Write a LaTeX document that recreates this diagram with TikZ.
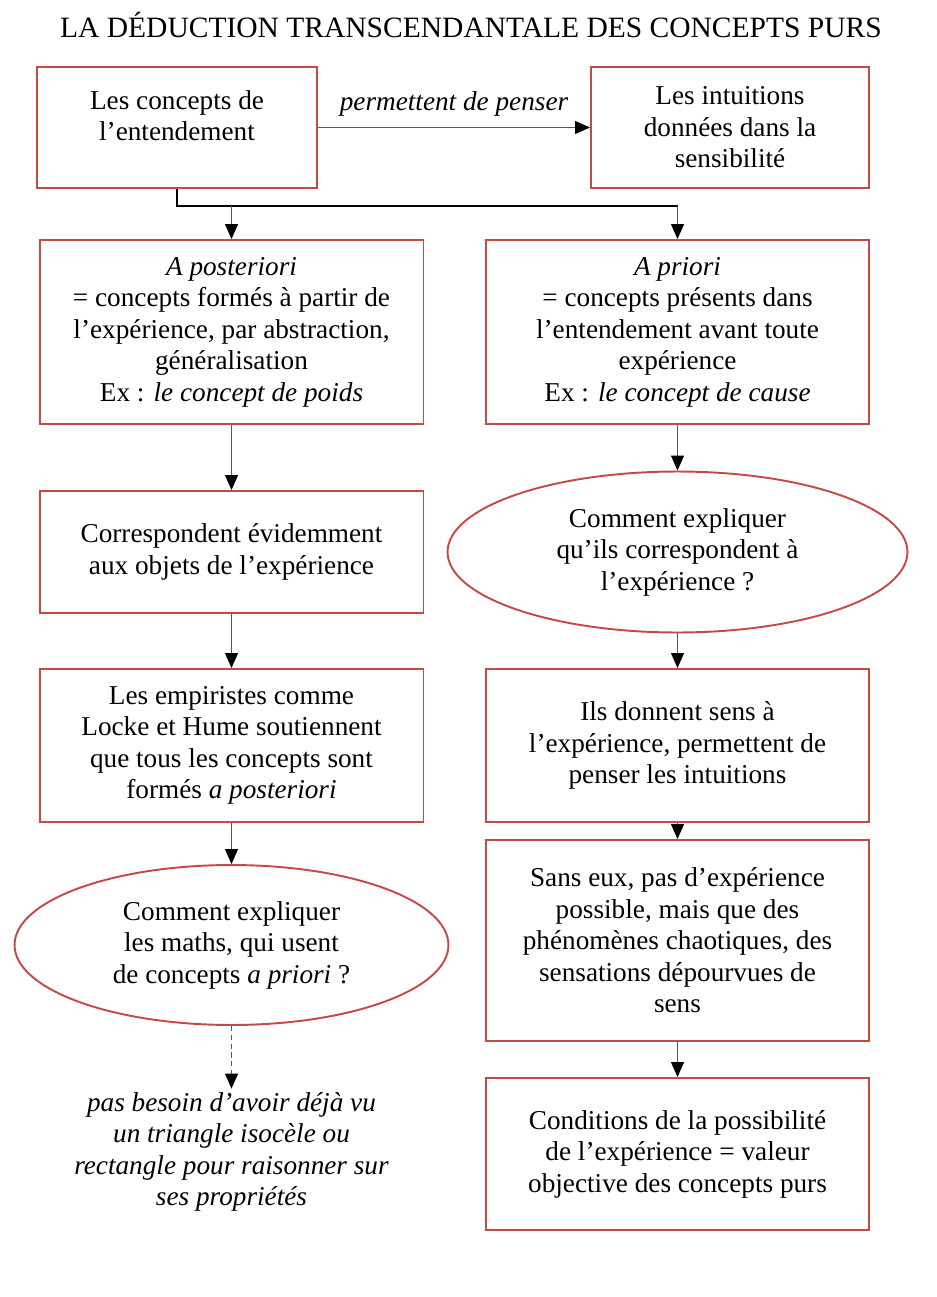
\documentclass[tikz,border=0pt]{standalone}
\usepackage{fontspec}
\setmainfont{Liberation Serif}
\usetikzlibrary{arrows.meta,shapes.geometric}
\definecolor{boxred}{RGB}{200,72,70}
\tikzset{
	box/.style={draw=boxred, line width=1.1pt, align=center, inner sep=2pt, font=\fontsize{15.5}{17.9}\selectfont},
	bubble/.style={box, ellipse, inner sep=0pt},
	link/.style={draw=black!65, line width=0.6pt, -{Triangle[width=2.6mm,length=3mm,color=black]}},
}

\begin{document}
\begin{tikzpicture}[x=0.02cm,y=-0.02cm]
					\useasboundingbox (0,0) rectangle (936,1297);
					
					% Title
					\node[font=\fontsize{16.8}{19}\selectfont] (title) at (471,25) {LA DÉDUCTION TRANSCENDANTALE DES CONCEPTS PURS};
					
					% Top row
					\node[box, minimum width=5.6cm, minimum height=2.42cm, text depth=0.47cm] (concepts) at (177,127.5) {Les concepts de\\l’entendement};
					\node[box, minimum width=5.56cm, minimum height=2.42cm] (intuitions) at (730,127.5) {Les intuitions\\données dans la\\sensibilité};
					\draw[link] (concepts.east) -- node[above=3pt, font=\fontsize{15.5}{17.9}\selectfont\itshape] {permettent de penser} (intuitions.west);
					
					% A posteriori
					\node[box, minimum width=7.68cm, minimum height=3.68cm] (aposteriori) at (231.5,332) {\textit{A posteriori}\\= concepts formés à partir de\\l’expérience, par abstraction,\\généralisation\\Ex : \textit{le concept de poids}};
					\node[box, minimum width=7.68cm, minimum height=2.44cm] (objets) at (231.5,552) {Correspondent évidemment\\aux objets de l’expérience};
					\node[box, minimum width=7.68cm, minimum height=3.06cm] (empiristes) at (231.5,745.5) {Les empiristes comme\\Locke et Hume soutiennent\\que tous les concepts sont\\formés \textit{a posteriori}};
					\node[bubble, minimum width=8.68cm, minimum height=3.2cm] (maths) at (231.5,945) {Comment expliquer\\les maths, qui usent\\de concepts \textit{a priori} ?};
					\node[align=center, inner sep=2pt, font=\fontsize{15.5}{17.9}\selectfont\itshape] (triangle) at (231.5,1152) {pas besoin d’avoir déjà vu\\un triangle isocèle ou\\rectangle pour raisonner sur\\ses propriétés};
					
					% A priori
					\node[box, minimum width=7.66cm, minimum height=3.68cm] (apriori) at (677.5,332) {\textit{A priori}\\= concepts présents dans\\l’entendement avant toute\\expérience\\Ex : \textit{le concept de cause}};
					\node[bubble, minimum width=9.2cm, minimum height=3.22cm] (comment) at (677.5,552) {Comment expliquer\\qu’ils correspondent à\\l’expérience ?};
					\node[box, minimum width=7.66cm, minimum height=3.06cm] (sens) at (677.5,745.5) {Ils donnent sens à\\l’expérience, permettent de\\penser les intuitions};
					\node[box, minimum width=7.66cm, minimum height=4.02cm] (sanseux) at (677.5,940.5) {Sans eux, pas d’expérience\\possible, mais que des\\phénomènes chaotiques, des\\sensations dépourvues de\\sens};
					\node[box, minimum width=7.66cm, minimum height=3.04cm] (conditions) at (677.5,1154) {Conditions de la possibilité\\de l’expérience = valeur\\objective des concepts purs};
					
					% Fork
					\coordinate (fork) at (177,206);
					\draw[line width=0.8pt] (concepts.south) -- (fork) -- (fork -| apriori.north);
					\draw[link] (fork -| aposteriori.north) -- (aposteriori.north);
					\draw[link] (fork -| apriori.north) -- (apriori.north);
					
					% Left column
					\draw[link] (aposteriori.south) -- (objets.north);
					\draw[link] (objets.south) -- (empiristes.north);
					\draw[link] (empiristes.south) -- (maths.north);
					\draw[link, dash pattern=on 3pt off 2pt] (maths.south) -- (triangle.north);
					
					% Right column
					\draw[link] (apriori.south) -- (comment.north);
					\draw[link] (comment.south) -- (sens.north);
					\draw[link] (sens.south) -- (sanseux.north);
					\draw[link] (sanseux.south) -- (conditions.north);
				\end{tikzpicture}
\end{document}
